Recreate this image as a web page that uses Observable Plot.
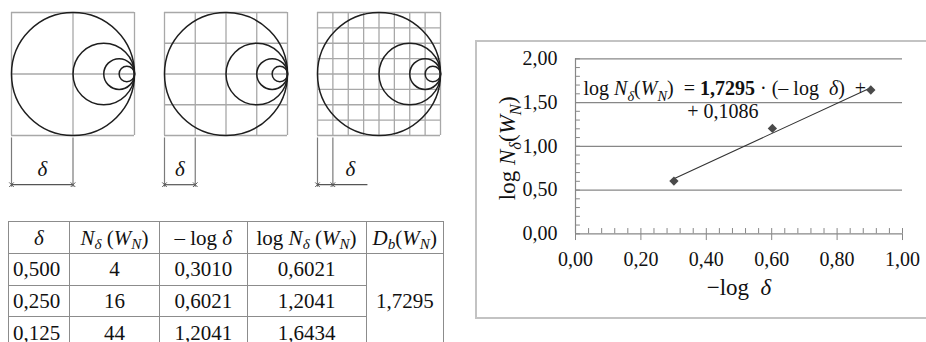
<!DOCTYPE html>
<html>
<head>
<meta charset="utf-8">
<script src="https://cdn.jsdelivr.net/npm/d3@7"></script>
<script src="https://cdn.jsdelivr.net/npm/@observablehq/plot@0.6"></script>
<style>
  html, body { margin: 0; padding: 0; background: #fff; overflow: hidden; }
  #root { position: relative; width: 926px; height: 342px; overflow: hidden;
          font-family: "Liberation Serif", "Times New Roman", serif; color: #111; }
  .abs { position: absolute; }
  .abs svg { display: block; overflow: visible; }
  table { border-collapse: collapse; table-layout: fixed; font-size: 21px; line-height: 18px; }
  td, th { border: 1px solid #8c8c8c; padding: 0; text-align: center; vertical-align: middle;
           font-weight: normal; white-space: nowrap; }
  th { height: 31px; }
  td { height: 30.7px; }
  td.left { text-align: left; padding-left: 4px; }
  sub { font-size: 72%; vertical-align: -0.28em; line-height: 0; }
  #frame { left: 475px; top: 40px; width: 640px; height: 275px; border: 2px solid #c3c3c3; }
</style>
</head>
<body>
<div id="root"></div>
<script>
// Box-counting of the nested-circle set W_N
const gridDivisions = [2, 4, 8];                 // boxes per side of the unit square
const circleDiameters = [1, 1 / 2, 1 / 4, 1 / 8];  // relative to the square side

// Table values
const deltaText = ["0,500", "0,250", "0,125"];
const boxCountText = ["4", "16", "44"];
const negLogDeltaText = ["0,3010", "0,6021", "1,2041"];
const logCountText = ["0,6021", "1,2041", "1,6434"];
const dimensionText = "1,7295";

// Log-log plot
const negLogDelta = [0.3010, 0.6021, 0.9031];
const logCount = [0.6021, 1.2041, 1.6434];
const slope = 1.7295;
const intercept = 0.1086;
const xTicks = [0, 0.2, 0.4, 0.6, 0.8, 1.0];
const yTicks = [0, 0.5, 1.0, 1.5, 2.0];

const root = document.getElementById("root");
const serif = "'Liberation Serif', 'Times New Roman', serif";
const comma = (v, d) => v.toFixed(d).replace(".", ",");

function place(node, left, top) {
  const div = document.createElement("div");
  div.className = "abs";
  div.style.left = left + "px";
  div.style.top = top + "px";
  div.appendChild(node);
  root.appendChild(div);
  return div;
}

// Replace a plain text element (found by its content) with styled tspans.
// style letters: i = italic, b = bold, s = subscript
function richify(svg, key, segs, fs) {
  d3.select(svg).selectAll("text")
    .filter(function () { return this.textContent === key; })
    .each(function () {
      const t = d3.select(this).text(null).style("white-space", "pre");
      let shift = 0;
      for (const [s, st = ""] of segs) {
        const ts = t.append("tspan").text(s);
        if (st.includes("i")) ts.attr("font-style", "italic");
        if (st.includes("b")) ts.attr("font-weight", "bold");
        const want = st.includes("s") ? 0.28 * fs : 0;
        if (want !== shift) { ts.attr("dy", want - shift); shift = want; }
        if (st.includes("s")) ts.attr("font-size", fs * 0.72);
      }
    });
}

// ---- Three coverings of the unit square ----
const side = 123;
gridDivisions.forEach((n, i) => {
  const cell = 1 / n;
  const lines = d3.range(n + 1).map(k => k * cell);
  const circles = circleDiameters.map(d => ({x: 1 - d / 2, y: 0.5, r: d / 2}));
  const last = i === gridDivisions.length - 1;
  const dimEnd = last ? 0.41 : cell;
  const labelX = last ? 0.267 : cell / 2;
  const svg = Plot.plot({
    width: side + 20, height: 200,
    marginLeft: 10, marginRight: 10, marginTop: 12, marginBottom: 200 - 12 - side,
    x: {domain: [0, 1], axis: null},
    y: {domain: [0, 1], axis: null},
    r: {type: "linear", domain: [0, 1], range: [0, side]},
    style: {fontFamily: serif, background: "transparent"},
    marks: [
      Plot.ruleX(lines, {y1: 0, y2: 1, stroke: "#a8a8a8", strokeWidth: 1.3}),
      Plot.ruleY(lines, {x1: 0, x2: 1, stroke: "#a8a8a8", strokeWidth: 1.3}),
      Plot.dot(circles, {x: "x", y: "y", r: "r", stroke: "#1e1e1e", strokeWidth: 1.5, fill: "none"}),
      Plot.ruleX([0, cell], {y1: -0.02, y2: -0.42, stroke: "#7a7a7a", strokeWidth: 1.2}),
      Plot.ruleY([-0.4], {x1: 0, x2: dimEnd, stroke: "#555", strokeWidth: 1.2}),
      Plot.dot([0, cell], {x: d => d, y: -0.4, symbol: "times", r: 2.2, stroke: "#555", strokeWidth: 1}),
      Plot.text(["δ"], {x: labelX, y: -0.273, fontSize: 21, fontStyle: "italic", fill: "#111"})
    ]
  });
  place(svg, 11 + i * 152.75 - 10, 0);
});

// ---- Table ----
const table = document.createElement("table");
const widths = [61, 90, 87.5, 119, 77.5];
table.style.width = d3.sum(widths) + "px";
table.innerHTML =
  "<colgroup>" + widths.map(w => `<col style="width:${w}px">`).join("") + "</colgroup>" +
  "<tr><th><i>δ</i></th><th><i>N<sub>δ</sub></i>&nbsp;(<i>W<sub>N</sub></i>)</th>" +
  "<th>– log <i>δ</i></th><th>log <i>N<sub>δ</sub></i>&nbsp;(<i>W<sub>N</sub></i>)</th>" +
  "<th><i>D<sub>b</sub></i>(<i>W<sub>N</sub></i>)</th></tr>" +
  deltaText.map((d, k) =>
    `<tr><td class="left">${d}</td><td>${boxCountText[k]}</td><td>${negLogDeltaText[k]}</td>` +
    `<td>${logCountText[k]}</td>` +
    (k === 0 ? `<td rowspan="${deltaText.length}">${dimensionText}</td>` : "") + "</tr>"
  ).join("");
place(table, 8, 221);

// ---- Log-log chart ----
const frame = document.createElement("div");
frame.className = "abs";
frame.id = "frame";
root.appendChild(frame);

const points = negLogDelta.map((x, k) => ({x, y: logCount[k]}));
const xExt = d3.extent(negLogDelta);
const fit = xExt.map(x => ({x, y: slope * x + intercept}));
const minorX = d3.range(0, 1.0001, 0.04);
const minorY = d3.range(0, 2.0001, 0.1);
const gray = "#878787";

const eq1 = `log Nδ(WN) = ${comma(slope, 4)} · (– log δ) +`;
const eq2 = `+ ${comma(intercept, 4)}`;
const yTitle = "log Nδ(WN)";
const xTitle = "−log δ";

const chart = Plot.plot({
  width: 449, height: 275,
  marginLeft: 98, marginRight: 24, marginTop: 16.3, marginBottom: 83.7,
  x: {domain: [0, 1]},
  y: {domain: [0, 2]},
  style: {fontFamily: serif, fontSize: "20px", color: "#111", background: "transparent"},
  marks: [
    Plot.ruleY(yTicks, {stroke: gray, strokeWidth: 1.2}),
    Plot.ruleX([0], {stroke: gray, strokeWidth: 1.2}),
    Plot.ruleY(minorY, {x1: 0, x2: 0.015, stroke: gray}),
    Plot.ruleX(minorX, {y1: 0, y2: 0.06, stroke: gray}),
    Plot.ruleX(xTicks, {y1: 0, y2: -0.077, stroke: gray}),
    Plot.axisX({ticks: xTicks, tickSize: 0, tickPadding: 17.5, tickFormat: v => comma(v, 2), fontSize: 20, label: null}),
    Plot.axisY({ticks: yTicks, tickSize: 0, tickPadding: 18, tickFormat: v => comma(v, 2), fontSize: 20, label: null}),
    Plot.line(fit, {x: "x", y: "y", stroke: "#333", strokeWidth: 1.1}),
    Plot.dot(points, {x: "x", y: "y", symbol: "diamond2", r: 4.2, fill: "#4a4a4a", stroke: "none"}),
    Plot.text([eq1], {x: 0.0245, y: 1.654, textAnchor: "start", lineAnchor: "middle", fontSize: 20, fill: "#111"}),
    Plot.text([eq2], {x: 0.342, y: 1.394, textAnchor: "start", lineAnchor: "middle", fontSize: 20, fill: "#111"}),
    Plot.text([yTitle], {frameAnchor: "left", textAnchor: "middle", lineAnchor: "middle", dx: -68, dy: 2, rotate: -90, fontSize: 23, fill: "#111"}),
    Plot.text([xTitle], {frameAnchor: "bottom", textAnchor: "middle", lineAnchor: "middle", dy: 54.3, fontSize: 23, fill: "#111"})
  ]
});
richify(chart, eq1, [["log "], ["N", "i"], ["δ", "is"], ["("], ["W", "i"], ["N", "is"], [")  = "],
  [comma(slope, 4), "b"], [" · (– log  "], ["δ", "i"], [")  +"]], 20);
richify(chart, yTitle, [["log "], ["N", "i"], ["δ", "is"], ["("], ["W", "i"], ["N", "is"], [")"]], 23);
richify(chart, xTitle, [["−log  "], ["δ", "i"]], 23);
place(chart, 477, 42);
</script>
</body>
</html>
